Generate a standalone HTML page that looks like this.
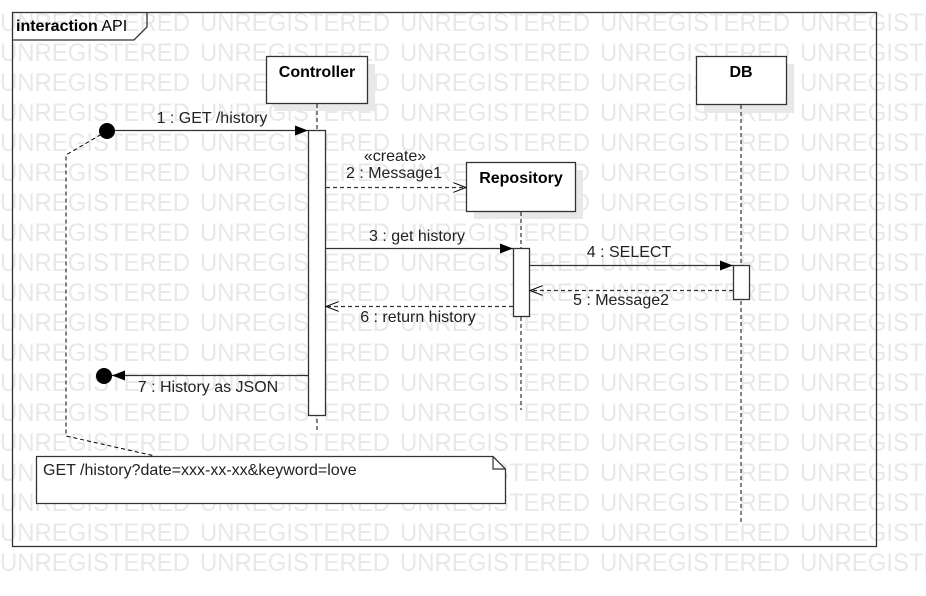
<!DOCTYPE html>
<html><head><meta charset="utf-8"><style>
html,body{margin:0;padding:0;background:#fff;}
svg{display:block;font-family:"Liberation Sans",sans-serif;}
</style></head><body>
<svg width="926" height="596" viewBox="0 0 926 596" xmlns="http://www.w3.org/2000/svg">
<defs>
<marker id="fa" markerWidth="14" markerHeight="10" refX="13" refY="5" orient="auto" markerUnits="userSpaceOnUse"><path d="M0,0 L13,5 L0,10 Z" fill="#000"/></marker>
<marker id="oa" markerWidth="14" markerHeight="10" refX="13" refY="5" orient="auto" markerUnits="userSpaceOnUse"><path d="M0,0 L13,5 L0,10" fill="none" stroke="#000"/></marker>
</defs>
<rect width="926" height="596" fill="#fff"/>
<g fill="#e8e8e8" font-size="25">
<g id="wr">
<text x="0" y="31" textLength="190" lengthAdjust="spacingAndGlyphs">UNREGISTERED</text>
<text x="200" y="31" textLength="190" lengthAdjust="spacingAndGlyphs">UNREGISTERED</text>
<text x="400" y="31" textLength="190" lengthAdjust="spacingAndGlyphs">UNREGISTERED</text>
<text x="600" y="31" textLength="190" lengthAdjust="spacingAndGlyphs">UNREGISTERED</text>
<text x="800" y="31" textLength="190" lengthAdjust="spacingAndGlyphs">UNREGISTERED</text>
</g>
<use href="#wr" y="30"/><use href="#wr" y="60"/><use href="#wr" y="90"/><use href="#wr" y="120"/>
<use href="#wr" y="150"/><use href="#wr" y="180"/><use href="#wr" y="210"/><use href="#wr" y="240"/>
<use href="#wr" y="270"/><use href="#wr" y="300"/><use href="#wr" y="330"/><use href="#wr" y="360"/>
<use href="#wr" y="390"/><use href="#wr" y="420"/><use href="#wr" y="450"/><use href="#wr" y="480"/>
<use href="#wr" y="510"/><use href="#wr" y="540"/>
</g>
<rect x="12.5" y="12.5" width="864" height="534" fill="none" stroke="#333" stroke-width="1.3"/>
<path d="M12.5,40 L134,40 L147,27 L147,12.5" fill="none" stroke="#333" stroke-width="1.3"/>
<text x="16" y="31" font-size="16" fill="#000"><tspan font-weight="bold">interaction</tspan> API</text>
<g fill="#e8e8e8">
<rect x="274" y="64" width="101" height="47"/>
<rect x="474" y="170" width="109" height="49"/>
<rect x="704" y="64" width="90" height="49"/>
</g>
<g stroke="#333" stroke-dasharray="4,3" stroke-width="1.2">
<line x1="317" y1="104" x2="317" y2="430"/>
<line x1="521" y1="212" x2="521" y2="410"/>
<line x1="741" y1="105" x2="741" y2="522"/>
</g>
<g fill="#fff" stroke="#333" stroke-width="1.3">
<rect x="266.5" y="56.5" width="101" height="47"/>
<rect x="466.5" y="162.5" width="109" height="49"/>
<rect x="696.5" y="56.5" width="90" height="48"/>
</g>
<g font-size="16" font-weight="bold" text-anchor="middle" fill="#000">
<text x="317" y="77">Controller</text>
<text x="521" y="183">Repository</text>
<text x="741" y="77">DB</text>
</g>
<g fill="#fff" stroke="#333" stroke-width="1.3">
<rect x="308.5" y="130.5" width="17" height="285"/>
<rect x="513.5" y="248.5" width="16" height="68"/>
<rect x="733.5" y="265.5" width="16" height="34"/>
</g>
<path d="M107,131 L66,155 L66,436 L155,456" fill="none" stroke="#000" stroke-dasharray="4,3"/>
<g stroke="#333" stroke-width="1.2" fill="none">
<line x1="112" y1="130.5" x2="308" y2="130.5" marker-end="url(#fa)"/>
<line x1="326" y1="187.5" x2="466" y2="187.5" stroke-dasharray="4,3" marker-end="url(#oa)"/>
<line x1="326" y1="248.5" x2="513" y2="248.5" marker-end="url(#fa)"/>
<line x1="530" y1="265.5" x2="733" y2="265.5" marker-end="url(#fa)"/>
<line x1="733" y1="290.5" x2="530" y2="290.5" stroke-dasharray="4,3" marker-end="url(#oa)"/>
<line x1="513" y1="306.5" x2="326" y2="306.5" stroke-dasharray="4,3" marker-end="url(#oa)"/>
<line x1="308" y1="375.5" x2="112" y2="375.5" marker-end="url(#fa)"/>
</g>
<circle cx="107" cy="131" r="8" fill="#000"/>
<circle cx="104" cy="376" r="8" fill="#000"/>
<g font-size="16" fill="#222" text-anchor="middle">
<text x="212" y="123">1 : GET /history</text>
<text x="395" y="161">«create»</text>
<text x="394" y="178">2 : Message1</text>
<text x="417" y="241">3 : get history</text>
<text x="629" y="257">4 : SELECT</text>
<text x="621" y="305">5 : Message2</text>
<text x="418" y="322">6 : return history</text>
<text x="208" y="392">7 : History as JSON</text>
</g>
<path d="M36.5,456.5 L493,456.5 L505.5,469 L505.5,503.5 L36.5,503.5 Z" fill="#fff" stroke="#333" stroke-width="1.3"/>
<path d="M493,456.5 L493,469 L505.5,469" fill="none" stroke="#333" stroke-width="1.2"/>
<text x="43" y="475" font-size="16" fill="#222">GET /history?date=xxx-xx-xx&amp;keyword=love</text>
</svg>
</body></html>
